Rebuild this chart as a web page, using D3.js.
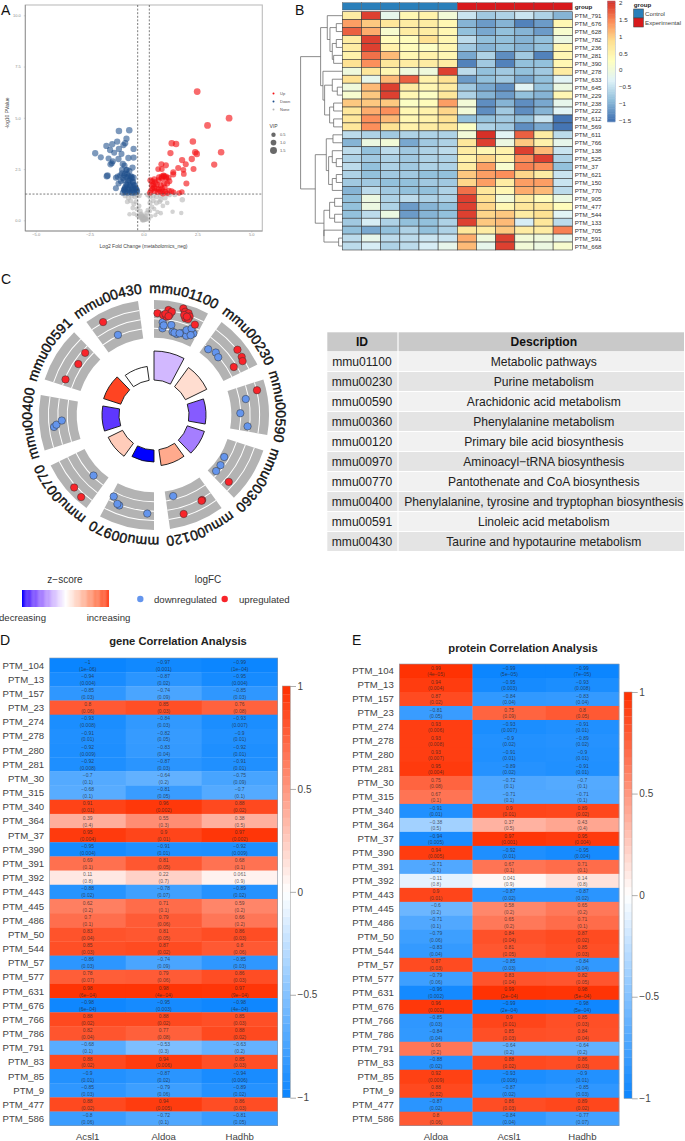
<!DOCTYPE html>
<html><head><meta charset="utf-8">
<script src="https://cdn.jsdelivr.net/npm/d3@7"></script>
<style>html,body{margin:0;padding:0;background:#fff}svg{display:block}text{font-family:"Liberation Sans",Arial,sans-serif}</style>
</head><body><svg id="c" width="685" height="1141"></svg>
<script>
// ---------- A: volcano, [log2FC, -log10P, VIP]
const volcanoUp=[[2.49,6.28,1.6],[3.97,4.98,1.6],[2.97,4.63,1.6],[2.29,3.84,1.5],[3.6,3.32,1.5],[1.31,3.76,1.5],[1.51,3.72,1.5],[1.25,3.28,1.4],[2.4,3.32,1.5],[2.47,3.24,1.5],[2.24,2.99,1.4],[1.79,2.94,1.4],[3.28,2.72,1.4],[1.96,2.73,1.3],[1.61,2.55,1.3],[2.32,2.5,1.3],[.83,2.73,1.3],[1.04,2.68,1.3],[1.85,2.46,1.2],[1.87,2.26,1.2],[.68,2.5,1.2],[.85,2.5,1.2],[1.38,2.34,1.3],[1.38,2.24,1.3],[1.99,1.8,1.3],[.93,2.18,1.4],[1.04,2.13,1.4],[.85,2.13,1.4],[1.16,2.08,1.3],[.32,1.95,1.3],[.4,1.9,1.3],[.5,2,1.3],[.55,1.85,1.3],[.7,1.95,1.3],[.72,2.1,1.3],[.85,2.05,1.3],[.95,2.15,1.3],[1.05,2.05,1.3],[.62,1.75,1.3],[.8,1.7,1.3],[.95,1.8,1.3],[1.1,1.8,1.3],[1.2,1.9,1.3],[.35,1.45,1.2],[.42,1.55,1.2],[.5,1.6,1.3],[.6,1.55,1.3],[.72,1.5,1.3],[.85,1.55,1.3],[.98,1.6,1.3],[.52,1.42,1.2],[.65,1.38,1.2],[.78,1.4,1.2],[.9,1.42,1.2],[1.02,1.4,1.2],[1.18,1.45,1.2],[1.3,1.42,1.2],[.38,1.7,1.2],[.45,1.75,1.2],[.3,1.35,1.2],[1.65,1.33,1.1],[1.78,1.38,1.1],[1.4,1.37,1.1],[.9,1.3,1.1],[1.1,1.32,1.1]];
const volcanoDown=[[-1.14,4.36,1.5],[-.66,4.39,1.5],[-.79,3.98,1.4],[-1.22,3.84,1.4],[-.85,3.76,1.4],[-.93,3.67,1.4],[-1.45,3.71,1.4],[-1.72,3.63,1.4],[-1.55,3.43,1.4],[-1.14,3.48,1.4],[-.46,3.48,1.4],[-2.24,3.27,1.4],[-1.36,3.3,1.3],[-1.02,3.24,1.3],[-1.98,3.07,1.3],[-1.62,3.01,1.3],[-1.16,2.99,1.4],[-.7,3.04,1.4],[-.46,3.06,1.4],[-1.42,2.88,1.3],[-1.53,2.73,1.4],[-1.47,2.78,1.3],[-.96,2.75,1.4],[-.88,2.67,1.3],[-.51,2.57,1.4],[-1,2.46,1.3],[-.77,2.46,1.3],[-1.67,2.18,1.5],[-1.7,2.15,1.5],[-1.28,2.08,1.3],[-1.2,2.13,1.3],[-.85,2.28,1.3],[-.7,2.15,1.3],[-.55,2.13,1.4],[-.46,2.08,1.4],[-1.08,2.2,1.3],[-.93,1.96,1.3],[-.7,1.96,1.3],[-.5,1.88,1.3],[-1.16,1.8,1.3],[-1.28,1.56,1.3],[-.85,1.56,1.3],[-.77,1.72,1.3],[-.62,1.72,1.4],[-.46,1.72,1.4],[-.9,1.48,1.3],[-.7,1.48,1.4],[-.54,1.48,1.4],[-.39,1.56,1.4],[-.31,1.48,1.3],[-.95,1.35,1.4],[-.9,1.5,1.4],[-.85,1.6,1.4],[-.8,1.75,1.4],[-.72,1.85,1.4],[-.65,1.95,1.4],[-.55,2.05,1.4],[-.48,1.85,1.4],[-.4,1.7,1.4],[-.35,1.55,1.4],[-.3,1.4,1.4],[-.45,1.45,1.4],[-.55,1.35,1.4],[-.65,1.4,1.4],[-.7,1.55,1.4],[-.6,1.65,1.4],[-.5,1.6,1.4],[-.75,1.35,1.4],[-.85,1.4,1.4],[-.8,2.1,1.3],[-.75,2.25,1.3],[-.65,2.4,1.3],[-.9,2.2,1.3],[-.95,2.05,1.3],[-1.05,1.9,1.3],[-1,2.3,1.3],[-.8,2.45,1.3],[-.6,2.15,1.3],[-.42,1.35,1.3]];
const volcanoNone=[[-.85,1.2,1],[-.7,1.1,1],[-.55,1.2,1.1],[-.4,1.15,1],[-.3,1.25,1],[-.2,1.2,.9],[.2,1.25,1],[.3,1.15,1],[.45,1.2,1],[.6,1.15,1],[.8,1.2,1],[1,1.1,1],[1.2,1.25,1],[1.45,1.25,.9],[1.8,1,1.1],[-.75,.9,.9],[-.6,.95,.9],[-.45,.8,.9],[-.35,.9,.9],[-.2,.7,.8],[.3,.85,.9],[.45,.95,.9],[.6,.85,.9],[.75,.9,.9],[.9,.7,.8],[.8,1,1],[1.1,.85,.8],[-.5,.6,.8],[-.3,.55,.9],[-.15,.45,.9],[-.1,.3,1],[-.05,.2,1],[0,.1,1],[.05,.05,1],[-.03,.05,1],[.1,.2,1],[.15,.35,.9],[.2,.5,.8],[.3,.45,.7],[.4,.65,.8],[-.05,.02,.9],[.08,.12,1],[.12,.03,.7],[-.1,.12,.9],[.5,.55,.7],[.65,.4,.7],[.8,.35,.7],[1.35,.42,.7],[1.75,.36,.7],[-.65,.3,.7],[-.45,.32,.7],[-.3,.25,.7],[-.22,.2,.8],[-.15,.15,.9],[.25,.05,.6],[.35,.2,.7],[.55,.25,.6],[0,.02,1],[.02,.08,1],[-.02,.15,1],[-.12,.25,1],[.1,.08,.9]];
const volcanoXTicks=[-5,-2.5,0,2.5,5], volcanoYTicks=[0,2.5,5,7.5,10], vipSizes=[.5,1,1.5];
// ---------- B: heatmap
const ptmRows=["PTM_791","PTM_676","PTM_628","PTM_782","PTM_236","PTM_281","PTM_390","PTM_278","PTM_633","PTM_645","PTM_229","PTM_238","PTM_222","PTM_612","PTM_569","PTM_611","PTM_766","PTM_138","PTM_525","PTM_37","PTM_621","PTM_150","PTM_770","PTM_905","PTM_477","PTM_544","PTM_133","PTM_705","PTM_591","PTM_668"];
const ptmValues=[[.6,1.9,-.2,.4,.5,0,-.5,-.8,-.7,-.5,-.7,-1],[1.3,1,.7,.6,.6,.4,-1,-1.2,-1,-1.4,-1.2,.4],[1.7,1.2,.1,.6,.6,.4,-.9,-1.1,-.9,-1,-1.2,.1],[.6,1.9,.3,.3,.8,.4,-.6,-.9,-.9,-1,-.9,-.1],[.6,1.9,.5,.3,.2,.4,-.8,-1,-.9,-1,-.9,.4],[.5,1.6,1.1,.4,.5,.4,-1.1,-.7,-1.3,-.8,-1.4,.4],[.8,1.4,.7,.6,.6,.6,-1.4,-.8,-1.4,-.9,-.9,.4],[-.05,.7,.4,-.05,-.05,1.9,-.6,-.9,-.8,-.9,-.8,.6],[.8,-.2,1.1,1.7,.5,.8,-1.2,-.9,-.8,-1.1,-.9,-.3],[-.05,1.1,1.9,.6,.4,.6,-.8,-1.1,-1.3,-.3,-.9,-.1],[.1,1,1.9,.4,.2,.7,-.7,-1,-1.2,-.9,-1,.4],[1,1,1,.2,.3,1.3,0,-1.3,-1,-1.3,-1.1,-.2],[.7,1.2,1.4,.4,.5,.9,0,-1.3,-.8,-1.3,-1,-.3],[.7,1.4,1.1,.4,.5,.8,-.9,-.9,-.8,-.9,-.5,-1.5],[.7,1.4,.8,.5,.6,.7,.2,-.7,-.8,-1.3,-1.1,-1.5],[-.6,-.7,-.8,-.7,-.7,-.7,0,2,-.3,1.7,.6,-.6],[-1,-.1,0,-1.1,-.8,-.7,.7,1.9,-.1,1,.5,-.2],[-.6,-.9,-.6,-.8,-.7,-.6,.6,.4,.5,1.9,1.1,-.5],[-.7,-.8,-.7,-.8,-.7,-.7,.5,.9,.5,1.4,1.9,-.7],[-.6,-.9,-.7,-.8,-.7,-.7,.6,1.3,.1,1.5,1.4,-.9],[-.7,-.9,-.8,-.8,-.9,-.9,1,1.3,1.4,.9,.6,-.5],[-.8,-.8,-.9,-.9,-.8,-.8,.9,1.3,.6,1.3,1.3,-.5],[-1,-.6,-.8,-.9,-.9,-.7,1.6,.7,.4,1.2,1.1,-.6],[-.9,-.1,-.7,-.6,-.7,-.7,1.9,.8,0,.6,.3,-.1],[-.9,-.1,-.7,-1.2,-1,-.9,1.9,.9,.4,.7,.7,.3],[-.9,-.6,-.1,-1.2,-1,-.9,1.9,.9,1,.6,.8,-.3],[-.8,-.4,-.7,-.9,-.9,-.7,1.9,1,1.1,-.4,.7,-.6],[-.9,-1.1,-.9,-.7,-.9,-.7,.7,.6,1,.6,.6,1.5],[-.6,-.2,-.6,-.6,-.5,-.5,1.2,-.05,1.9,0,-.05,-.2],[-.6,-.4,-.7,-.6,-.4,-.2,1.1,-.2,1.9,0,-.1,.1]];
const groupLabels=["Control","Control","Control","Control","Control","Control","Experimental","Experimental","Experimental","Experimental","Experimental","Experimental"];
const heatTicks=[2,1.5,1,.5,0,-.5,-1,-1.5];
const rowTree=[125,
 [65,[45,"PTM_791",[37,[18,"PTM_676","PTM_628"],[30,[18,"PTM_782","PTM_236"],[26,"PTM_281","PTM_390"]]]],
     [58,"PTM_278",[53,[30,"PTM_633",[15,"PTM_645","PTM_229"]],[38,[26,"PTM_238","PTM_222"],[26,"PTM_612","PTM_569"]]]]],
 [81,[48,[28,"PTM_611","PTM_766"],[41,[30,"PTM_138",[18,"PTM_525","PTM_37"]],[30,[18,"PTM_621","PTM_150"],"PTM_770"]]],
     [55,[38,[23,"PTM_905","PTM_477"],[23,"PTM_544","PTM_133"]],[55,"PTM_705",[11,"PTM_591","PTM_668"]]]]];
// ---------- C: GO circle
const goIds=["mmu01100","mmu00230","mmu00590","mmu00360","mmu00120","mmu00970","mmu00770","mmu00400","mmu00591","mmu00430"];
const goDescriptions=["Metabolic pathways","Purine metabolism","Arachidonic acid metabolism","Phenylalanine metabolism","Primary bile acid biosynthesis","Aminoacyl\u2212tRNA biosynthesis","Pantothenate and CoA biosynthesis","Phenylalanine, tyrosine and tryptophan biosynthesis","Linoleic acid metabolism","Taurine and hypotaurine metabolism"];
const goBar=[29,23.7,17,18,16,12,16,17,18,14];
const goZ=[-.3,.2,-.7,-.55,.5,-1,.3,-.85,1,0];
const goUp=[[[.07,.65],[.19,.61],[.26,.58],[.32,.65],[.28,.76],[.23,.65],[.35,.73],[.3,.6],[.55,.88],[.6,.81],[.67,.8],[.71,.73],[.64,.65],[.7,.65],[.87,.58],[.6,.72],[.66,.7]],[[.57,.76],[.73,.74],[.81,.7],[.82,.42]],[[.16,.76]],[[.85,.61]],[[.23,.54],[.69,.69],[.25,.55]],[],[[.42,.81],[.2,.86]],[],[[.14,.48],[.57,.37],[.86,.41]],[[.26,.76]]];
const goDown=[[[.19,.42],[.2,.26],[.39,.38],[.45,.21],[.56,.18],[.67,.24],[.79,.22],[.75,.36],[.92,.35],[.84,.45],[.22,.34],[.5,.2],[.62,.22],[.88,.28]],[[.125,.21],[.31,.28],[.43,.24]],[[.29,.42],[.6,.24],[.89,.45]],[[.46,.12],[.68,.16],[.86,.17]],[[.81,.16]],[[.14,.57],[.75,.52],[.8,.5],[.94,.36]],[[.32,.22]],[[.4,.62],[.44,.55],[.52,.4]],[],[[.42,.28]]];
// ---------- D / E: correlation
const corrRows=["PTM_104","PTM_13","PTM_157","PTM_23","PTM_274","PTM_278","PTM_280","PTM_281","PTM_30","PTM_315","PTM_340","PTM_364","PTM_37","PTM_390","PTM_391","PTM_392","PTM_443","PTM_445","PTM_486","PTM_50","PTM_544","PTM_57","PTM_577","PTM_631","PTM_676","PTM_766","PTM_786","PTM_791","PTM_83","PTM_85","PTM_9","PTM_477","PTM_586"];
const geneCols=["Acsl1","Aldoa","Hadhb"], proteinCols=["Aldoa","Acsl1","Hadhb"];
const geneR=[[-1,-.97,-.99],[-.94,-.87,-.95],[-.85,-.74,-.85],[.8,.85,.76],[-.93,-.84,-.93],[-.91,-.82,-.9],[-.92,-.83,-.92],[-.92,-.87,-.91],[-.7,-.64,-.75],[-.68,-.81,-.7],[.91,.96,.88],[.39,.55,.38],[.95,.9,.97],[-.95,-.91,-.92],[.69,.81,.68],[.11,.22,.061],[-.88,-.78,-.89],[.62,.71,.59],[.7,.79,.66],[.83,.81,.86],[.85,.87,.8],[-.86,-.74,-.85],[.78,.79,.86],[.98,.98,.97],[-.98,-.95,-.98],[.88,.88,.85],[.82,.77,.88],[-.68,-.53,-.63],[.88,.94,.85],[-.9,-.87,-.94],[-.85,-.79,-.89],[.88,.94,.86],[-.8,-.72,-.81]];
const geneP=[["1e-06","0.001","1e-04"],["0.004","0.02","0.004"],["0.03","0.09","0.03"],["0.06","0.03","0.08"],["0.008","0.03","0.007"],["0.01","0.05","0.01"],["0.009","0.04","0.01"],["0.008","0.03","0.01"],["0.1","0.2","0.09"],["0.1","0.05","0.1"],["0.01","0.002","0.02"],["0.4","0.3","0.5"],["0.004","0.01","0.002"],["0.004","0.01","0.009"],["0.1","0.05","0.1"],["0.8","0.7","0.9"],["0.02","0.07","0.02"],["0.2","0.1","0.2"],["0.1","0.06","0.2"],["0.04","0.05","0.03"],["0.03","0.02","0.06"],["0.03","0.09","0.03"],["0.07","0.06","0.03"],["6e-04","4e-04","9e-04"],["6e-04","0.003","4e-04"],["0.02","0.02","0.03"],["0.04","0.08","0.02"],["0.1","0.3","0.2"],["0.02","0.006","0.03"],["0.01","0.02","0.006"],["0.03","0.06","0.02"],["0.02","0.005","0.03"],["0.06","0.1","0.05"]];
const proteinR=[[.99,-.99,-.99],[.94,-.95,-.93],[.87,-.84,-.83],[-.81,.75,.8],[.93,-.93,-.91],[.93,-.9,-.89],[.93,-.91,-.9],[.95,-.89,-.91],[.75,-.72,-.7],[.67,-.71,-.71],[-.91,.9,.89],[-.38,.37,.43],[-.94,.97,.95],[.94,-.92,-.95],[-.71,.67,.71],[-.11,.041,.14],[.9,-.87,-.87],[-.6,.58,.65],[-.71,.65,.71],[-.79,.84,.87],[-.83,.81,.85],[.87,-.85,-.84],[-.79,.83,.82],[-.96,.99,.98],[.96,-.99,-.98],[-.85,.9,.85],[-.84,.85,.84],[.66,-.64,-.64],[-.88,.88,.86],[.92,-.93,-.9],[.88,-.87,-.85],[-.87,.86,.89],[.8,-.84,-.77]];
const proteinP=[["4e-05","5e-05","7e-05"],["0.004","0.003","0.008"],["0.02","0.04","0.04"],["0.05","0.09","0.05"],["0.006","0.007","0.01"],["0.008","0.02","0.02"],["0.007","0.01","0.01"],["0.004","0.02","0.01"],["0.08","0.1","0.1"],["0.1","0.1","0.1"],["0.01","0.01","0.02"],["0.5","0.5","0.4"],["0.005","0.001","0.004"],["0.005","0.01","0.004"],["0.1","0.1","0.1"],["0.8","0.9","0.8"],["0.01","0.02","0.02"],["0.2","0.2","0.2"],["0.1","0.2","0.1"],["0.06","0.04","0.02"],["0.04","0.05","0.03"],["0.03","0.03","0.04"],["0.06","0.04","0.05"],["0.002","2e-04","5e-04"],["0.002","2e-04","5e-04"],["0.03","0.01","0.03"],["0.04","0.03","0.04"],["0.2","0.2","0.2"],["0.02","0.02","0.03"],["0.009","0.008","0.01"],["0.02","0.02","0.03"],["0.02","0.03","0.02"],["0.06","0.04","0.07"]];
const corrTicks=[1,.5,0,-.5,-1];

const svg=d3.select("#c");
const minus=s=>String(s).replace("-","\u2212");
function txt(g,x,y,s,size,o={}){
  const t=g.append("text").attr("x",x).attr("y",y).attr("font-size",size).attr("fill",o.fill||"#222")
    .attr("text-anchor",o.anchor||"start").attr("dominant-baseline","central").text(s);
  if(o.weight)t.attr("font-weight",o.weight);
  if(o.rotate!==undefined)t.attr("transform",`rotate(${o.rotate} ${x} ${y})`);
  return t;
}
[["A",1,9.5],["B",295,9.5],["C",1,279],["D",0,640],["E",352,640]].forEach(d=>txt(svg,d[1],d[2],d[0],14,{fill:"#111"}));

// ===== A
(function(){
  const g=svg.append("g");
  const x=d3.scaleLinear().domain([-5,5]).range([35.7,251.3]);
  const y=d3.scaleLinear().domain([0,10]).range([220.3,15.3]);
  const r=d3.scaleLinear().domain([.5,1.6]).range([2,3.4]);
  const L=25.3,R=262.3,T=5,B=231;
  g.append("rect").attr("x",L).attr("y",T).attr("width",R-L).attr("height",B-T).attr("fill","#fff").attr("stroke","#bdbdbd").attr("stroke-width",1.1);
  g.append("line").attr("x1",L).attr("x2",L).attr("y1",T).attr("y2",B).attr("stroke","#777").attr("stroke-width",.6);
  g.append("line").attr("x1",L).attr("x2",R).attr("y1",B).attr("y2",B).attr("stroke","#777").attr("stroke-width",.6);
  const sets=[[volcanoNone,"#b5b5b5",.6],[volcanoDown,"#1f4f8c",.58],[volcanoUp,"#f40f12",.62]];
  sets.forEach(s=>g.append("g").selectAll("circle").data(s[0]).join("circle")
    .attr("cx",d=>x(d[0])).attr("cy",d=>y(d[1])).attr("r",d=>r(d[2])).attr("fill",s[1]).attr("fill-opacity",s[2]));
  [-.27,.27].forEach(v=>g.append("line").attr("x1",x(v)).attr("x2",x(v)).attr("y1",T).attr("y2",B).attr("stroke","#444").attr("stroke-width",.7).attr("stroke-dasharray","2 1.6"));
  g.append("line").attr("x1",L).attr("x2",R).attr("y1",y(1.28)).attr("y2",y(1.28)).attr("stroke","#444").attr("stroke-width",.7).attr("stroke-dasharray","2 1.6");
  const ax=g.append("g").attr("transform",`translate(0,${B})`).call(d3.axisBottom(x).tickValues(volcanoXTicks).tickSize(1.5).tickFormat(d=>minus(d.toFixed(1))));
  const ay=g.append("g").attr("transform",`translate(${L},0)`).call(d3.axisLeft(y).tickValues(volcanoYTicks).tickSize(1.5).tickFormat(d=>d.toFixed(1)));
  [ax,ay].forEach(a=>{a.select(".domain").remove();a.selectAll("line").attr("stroke","#999").attr("stroke-width",.4);
    a.selectAll("text").attr("font-size",4).attr("fill","#8a8a8a");});
  ax.selectAll("text").attr("dy",".2em").attr("y",4);
  txt(g,143.5,246,"Log2 Fold Change (metabolomics_neg)",5,{anchor:"middle",fill:"#444"});
  txt(g,6.5,113,"-log10 PValue",5,{anchor:"middle",fill:"#444",rotate:-90});
  [["Up","#f40f12",93.5],["Down","#1f4f8c",101.5],["None","#b5b5b5",109.5]].forEach(d=>{
    g.append("circle").attr("cx",273.5).attr("cy",d[2]).attr("r",1).attr("fill",d[1]);
    txt(g,280,d[2],d[0],4,{fill:"#555"});
  });
  txt(g,269.5,125.5,"VIP",5,{fill:"#444"});
  vipSizes.forEach((v,i)=>{const yy=134.7+i*7.9;
    g.append("circle").attr("cx",273.5).attr("cy",yy).attr("r",r(v)+.2).attr("fill","#444").attr("fill-opacity",.8);
    txt(g,280,yy,v.toFixed(1),4,{fill:"#555"});});
})();

// ===== B
(function(){
  const g=svg.append("g");
  const x=d3.scaleBand().domain(d3.range(12)).range([342.3,572.3]);
  const y=d3.scaleBand().domain(ptmRows).range([11.7,250]);
  const col=d3.scaleLinear().domain([-1.5,-.917,-.333,.25,.833,1.417,2]).range(["#4575B4","#91BFDB","#E0F3F8","#FFFFBF","#FEE090","#FC8D59","#D73027"]).clamp(true);
  const gc={Control:"#2a7fba",Experimental:"#d7191c"};
  g.append("g").selectAll("rect").data(groupLabels).join("rect").attr("x",(d,i)=>x(i)).attr("y",2.7).attr("width",x.bandwidth()).attr("height",7.3).attr("fill",d=>gc[d]).attr("stroke","#555").attr("stroke-width",.4);
  ptmRows.forEach((r,i)=>{
    g.append("g").selectAll("rect").data(ptmValues[i]).join("rect").attr("x",(d,j)=>x(j)).attr("y",y(r)).attr("width",x.bandwidth()).attr("height",y.bandwidth()).attr("fill",d=>col(d)).attr("stroke","#3a3a3a").attr("stroke-width",.6);
    txt(g,574.7,y(r)+y.bandwidth()/2,r,6.2,{fill:"#333"});
  });
  txt(g,574.7,6.4,"group",6.2,{weight:"bold",fill:"#222"});
  // dendrogram
  const kids=d=>Array.isArray(d)?d.slice(1):null;
  const root=d3.hierarchy(rowTree,kids);
  const hx=d3.scaleLinear().domain([0,125]).range([342.3,300.6]);
  root.eachAfter(n=>{
    if(n.children){n.py=d3.mean(n.children,c=>c.py);n.px=hx(n.data[0]);}
    else{n.py=y(n.data)+y.bandwidth()/2;n.px=hx(0);}
  });
  const dg=g.append("g").attr("fill","none").attr("stroke","#666").attr("stroke-width",.75);
  root.descendants().filter(n=>n.children).forEach(n=>{
    n.children.forEach(c=>dg.append("path").attr("d",`M${n.px},${c.py}H${c.px}`));
    dg.append("path").attr("d",`M${n.px},${n.children[0].py}V${n.children[1].py}`);
  });
  // colorbar
  const cy=d3.scaleLinear().domain([-1.5,2]).range([120.3,2.8]);
  const cb=g.append("g");
  cb.selectAll("rect").data(d3.range(-1.55,2.05,.05)).join("rect").attr("x",607.3).attr("y",d=>cy(d)-2).attr("width",8).attr("height",2.2).attr("fill",d=>col(d));
  cb.append("rect").attr("x",607.3).attr("y",2).attr("width",8).attr("height",119.7).attr("fill","none").attr("stroke","#8ea6c8").attr("stroke-width",.4);
  heatTicks.forEach(t=>txt(g,619,cy(t),minus(t),6.2,{fill:"#333"}));
  txt(g,633.7,4.8,"group",6.2,{weight:"bold",fill:"#222"});
  [["Control",9],["Experimental",18]].forEach(d=>{
    g.append("rect").attr("x",633.7).attr("y",d[1]).attr("width",9.6).attr("height",9).attr("fill",gc[d[0]]).attr("stroke","#444").attr("stroke-width",.6);
    txt(g,645,d[1]+4.5,d[0],6.2,{fill:"#444"});
  });
})();

// ===== C
(function(){
  const g=svg.append("g").attr("transform","translate(154,415)");
  const a0=i=>36*i*Math.PI/180, sw=28*Math.PI/180;
  const rIn=77.3,rOut=115;
  const br=d3.scaleLinear().domain([0,29]).range([35,64]);
  const pr=d3.scaleLinear().domain([0,1]).range([rIn,rOut]);
  const zc=d3.scaleLinear().domain([-1,0,1]).range(["#0000ff","#ffffff","#ff4422"]).interpolate(d3.interpolateLab);
  const arc=d3.arc();
  const polar=(i,p)=>{const a=a0(i)+p[0]*sw-Math.PI/2,r=pr(p[1]);return [r*Math.cos(a),r*Math.sin(a)];};
  goIds.forEach((id,i)=>{
    g.append("path").attr("d",arc({innerRadius:rIn,outerRadius:rOut,startAngle:a0(i),endAngle:a0(i)+sw})).attr("fill","#b3b3b3");
    [.25,.5,.75].forEach(f=>g.append("path").attr("d",arc({innerRadius:pr(f)-.5,outerRadius:pr(f)+.5,startAngle:a0(i),endAngle:a0(i)+sw})).attr("fill","#fff"));
    g.append("path").attr("d",arc({innerRadius:br(0),outerRadius:br(goBar[i]),startAngle:a0(i),endAngle:a0(i)+sw})).attr("fill",zc(goZ[i])).attr("stroke","#111").attr("stroke-width",.9);
    const mid=a0(i)+sw/2-Math.PI/2, p=d3.path();
    p.arc(0,0,122,mid-1.1,mid+1.1);
    g.append("path").attr("id","lab"+i).attr("d",p.toString()).attr("fill","none");
    g.append("text").attr("font-size",14).attr("fill","#111").attr("text-anchor","middle").attr("stroke","#111").attr("stroke-width",.4)
      .append("textPath").attr("href","#lab"+i).attr("startOffset","50%").text(id);
  });
  const dots=(data,fill)=>data.forEach((ps,i)=>ps.forEach(q=>{const c=polar(i,q);
    g.append("circle").attr("cx",c[0]).attr("cy",c[1]).attr("r",3.7).attr("fill",fill).attr("stroke","#333").attr("stroke-width",.5);}));
  dots(goDown,"#6495ed"); dots(goUp,"#f8242a");
  // legend
  const L=svg.append("g");
  txt(L,65,579.5,"z\u2212score",10,{anchor:"middle",fill:"#333"});
  txt(L,208,579.5,"logFC",10,{anchor:"middle",fill:"#333"});
  const lx=d3.scaleLinear().domain([-1,1]).range([22,108.7]);
  L.append("g").selectAll("rect").data(d3.range(-1,1,.02)).join("rect").attr("x",d=>lx(d)).attr("y",590).attr("width",1.2).attr("height",17).attr("fill",d=>zc(d));
  txt(L,22.5,617.5,"decreasing",9.6,{anchor:"middle",fill:"#333"});
  txt(L,108.5,617.5,"increasing",9.6,{anchor:"middle",fill:"#333"});
  L.append("circle").attr("cx",140.3).attr("cy",599).attr("r",3.2).attr("fill","#6495ed");
  txt(L,154,599,"downregulated",9.6,{fill:"#333"});
  L.append("circle").attr("cx",224.7).attr("cy",599).attr("r",3.2).attr("fill","#f8242a");
  txt(L,239,599,"upregulated",9.6,{fill:"#333"});
})();

// ===== Table
(function(){
  const g=svg.append("g");
  const rowY=d3.scaleLinear().domain([0,1]).range([352,372]);
  const xs=[327.3,398,684];
  g.append("rect").attr("x",xs[0]).attr("y",332.3).attr("width",xs[1]-xs[0]-.6).attr("height",19).attr("fill","#c9c9c9");
  g.append("rect").attr("x",xs[1]+.6).attr("y",332.3).attr("width",xs[2]-xs[1]-.6).attr("height",19).attr("fill","#c9c9c9");
  txt(g,362,342,"ID",12.1,{anchor:"middle",weight:"bold",fill:"#111"});
  txt(g,543.8,342,"Description",12.1,{anchor:"middle",weight:"bold",fill:"#111"});
  goIds.forEach((id,i)=>{
    const c=i%2?"#e4e4e4":"#f1f1f1", yy=rowY(i);
    g.append("rect").attr("x",xs[0]).attr("y",yy).attr("width",xs[1]-xs[0]-.6).attr("height",19).attr("fill",c);
    g.append("rect").attr("x",xs[1]+.6).attr("y",yy).attr("width",xs[2]-xs[1]-.6).attr("height",19).attr("fill",c);
    txt(g,362,yy+9.6,id,12.1,{anchor:"middle",fill:"#222"});
    txt(g,543.8,yy+9.6,goDescriptions[i],12.1,{anchor:"middle",fill:"#222"});
  });
})();

// ===== D, E
function corr(o){
  const g=svg.append("g");
  const x=d3.scaleBand().domain(o.cols).range([o.x0,o.x1]);
  const y=d3.scaleBand().domain(corrRows).range([o.y0,o.y1]);
  const col=d3.scaleLinear().domain([-1,0,1]).range(["#0a85ff","#ffffff","#ff3000"]);
  corrRows.forEach((r,i)=>{
    o.cols.forEach((c,j)=>{
      const v=o.R[i][j],cx=x(c)+x.bandwidth()/2,yy=y(r);
      g.append("rect").attr("x",x(c)).attr("y",yy).attr("width",x.bandwidth()+.3).attr("height",y.bandwidth()+.3).attr("fill",col(v));
      txt(g,cx,yy+y.bandwidth()*.26,minus(v),5,{anchor:"middle",fill:"#222"}).attr("fill-opacity",.72);
      txt(g,cx,yy+y.bandwidth()*.75,"("+minus(o.P[i][j])+")",5,{anchor:"middle",fill:"#222"}).attr("fill-opacity",.72);
    });
    txt(g,o.x0-5.5,y(r)+y.bandwidth()/2,r,9.6,{anchor:"end",fill:"#444"});
  });
  g.append("rect").attr("x",o.x0).attr("y",o.y0).attr("width",o.x1-o.x0).attr("height",o.y1-o.y0).attr("fill","none").attr("stroke","#8a98a8").attr("stroke-width",.6);
  o.cols.forEach(c=>txt(g,x(c)+x.bandwidth()/2,1136.5,c,9.6,{anchor:"middle",fill:"#444"}));
  txt(g,o.tx,o.ty,o.title,11.2,{anchor:"middle",weight:"bold",fill:"#222"});
  const s=d3.scaleLinear().domain([-1,1]).range([o.cb1,o.cb0]);
  const stripes=d3.range(-1,1,.04);
  g.append("g").selectAll("rect").data(stripes).join("rect").attr("x",o.cbx).attr("y",d=>s(d+.04)).attr("width",8).attr("height",s(-1)-s(-.96)+.2).attr("fill",d=>col(d+.02));
  g.append("rect").attr("x",o.cbx).attr("y",o.cb0).attr("width",8).attr("height",o.cb1-o.cb0).attr("fill","none").attr("stroke","#999").attr("stroke-width",.5);
  const a=g.append("g").attr("transform",`translate(${o.cbx+8},0)`).call(d3.axisRight(s).tickValues(corrTicks).tickSize(5.7).tickPadding(1.6).tickFormat(d=>minus(d)));
  a.select(".domain").remove();
  a.selectAll("line").attr("stroke","#777").attr("stroke-width",.6);
  a.selectAll("text").attr("font-size",10).attr("fill","#444");
}
corr({cols:geneCols,R:geneR,P:geneP,x0:49.7,x1:277.7,y0:658,y1:1125.7,title:"gene Correlation Analysis",tx:178,ty:641,cbx:282.3,cb0:686,cb1:1097.7});
corr({cols:proteinCols,R:proteinR,P:proteinP,x0:399.3,x1:619,y0:664,y1:1125.7,title:"protein Correlation Analysis",tx:523,ty:647.5,cbx:624,cb0:692,cb1:1098.3});
</script></body></html>
